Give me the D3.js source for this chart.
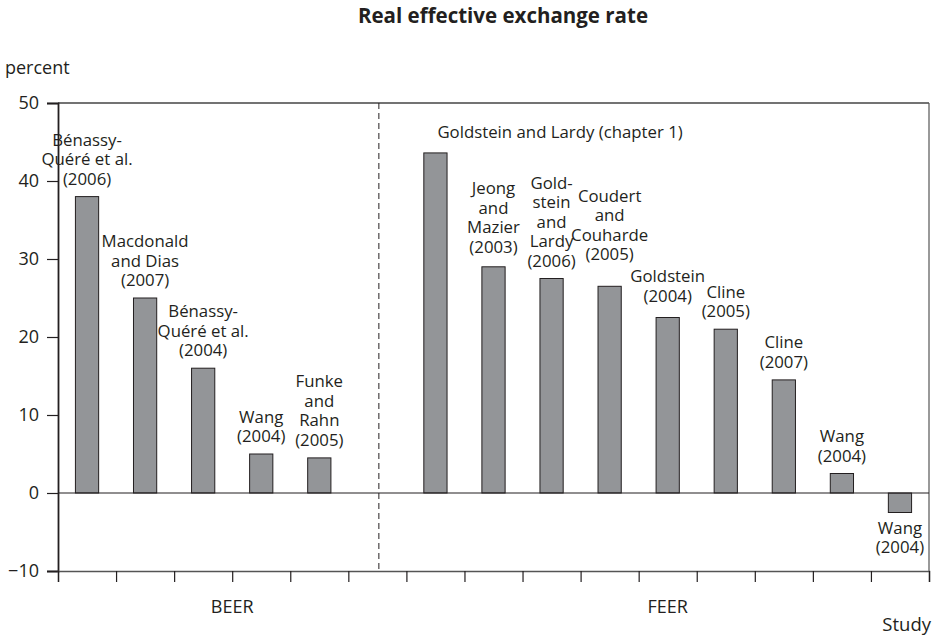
<html>
<head>
<meta charset="UTF-8">
<title>Real effective exchange rate</title>
<script src="https://d3js.org/d3.v7.min.js"></script>
<style>html,body{margin:0;padding:0;background:#fff;}svg{font-family:"Open Sans",sans-serif;}</style>
</head>
<body>
<div id="container"></div>
<script>
// studies, one per bar, label lines split with "|"
const studies = [
  "Bénassy-|Quéré et al.|(2006)",
  "Macdonald|and Dias|(2007)",
  "Bénassy-|Quéré et al.|(2004)",
  "Wang|(2004)",
  "Funke|and|Rahn|(2005)",
  "Goldstein and Lardy (chapter 1)",
  "Jeong|and|Mazier|(2003)",
  "Gold-|stein|and|Lardy|(2006)",
  "Coudert|and|Couharde|(2005)",
  "Goldstein|(2004)",
  "Cline|(2005)",
  "Cline|(2007)",
  "Wang|(2004)",
  "Wang|(2004)"
]
const methods = ["BEER","BEER","BEER","BEER","BEER","FEER","FEER","FEER","FEER","FEER","FEER","FEER","FEER","FEER"]
const values = [38, 25, 16, 5, 4.5, 43.6, 29, 27.5, 26.5, 22.5, 21, 14.5, 2.5, -2.5]
const yTicks = [-10, 0, 10, 20, 30, 40, 50]
const groupNames = ["BEER", "FEER"]

const width = 939, height = 638
const plot = { left: 58, right: 929, top: 103, bottom: 571 }
const nSlots = 15
const ink = "#231f20"

// BEER bars in slots 0-4, slot 5 empty (divider), FEER in 6-14
const slotOf = i => methods[i] === "BEER" ? i : i + 1

const svg = d3.select("#container").append("svg")
  .attr("width", width).attr("height", height)

const x = d3.scaleBand().domain(d3.range(nSlots)).range([plot.left, plot.right])
  .paddingInner(0.6).paddingOuter(0.3)
const xEdge = d3.scaleLinear().domain([0, nSlots]).range([plot.left, plot.right])
const y = d3.scaleLinear().domain([-10, 50]).range([plot.bottom, plot.top])

// title
svg.append("text").attr("x", 503).attr("y", 23).attr("text-anchor", "middle")
  .style("font-weight", "bold").style("font-size", "20.5px").attr("fill", ink)
  .text("Real effective exchange rate")
svg.append("text").attr("x", 5).attr("y", 74).style("font-size", "18px").attr("fill", ink)
  .text("percent")

// frame: top and right
svg.append("line").attr("x1", plot.left).attr("x2", plot.right).attr("y1", y(50)).attr("y2", y(50))
  .attr("stroke", "#444").attr("stroke-width", 1.3)
svg.append("line").attr("x1", plot.right).attr("x2", plot.right).attr("y1", y(50)).attr("y2", plot.bottom)
  .attr("stroke", "#555").attr("stroke-width", 1.2)

// y axis
const yAxis = svg.append("g").attr("transform", `translate(${plot.left},0)`)
  .call(d3.axisLeft(y).tickValues(yTicks).tickSize(11).tickPadding(8))
yAxis.select(".domain").attr("stroke", ink).attr("stroke-width", 1.8)
yAxis.selectAll(".tick line").attr("stroke", ink).attr("stroke-width", 1.2)
yAxis.selectAll("text").style("font-size", "18px").attr("fill", ink).style("font-family", "Open Sans")

// x axis (slot boundaries)
const xAxis = svg.append("g").attr("transform", `translate(0,${plot.bottom})`)
  .call(d3.axisBottom(xEdge).tickValues(d3.range(nSlots + 1)).tickFormat("").tickSize(11))
xAxis.select(".domain").attr("stroke", "#555").attr("stroke-width", 1.5)
xAxis.selectAll(".tick line").attr("stroke", ink).attr("stroke-width", 1.2)

// divider between BEER and FEER
svg.append("line")
  .attr("x1", xEdge(5.5) + 1.5).attr("x2", xEdge(5.5) + 1.5)
  .attr("y1", y(50)).attr("y2", plot.bottom)
  .attr("stroke", ink).attr("stroke-width", 1).attr("stroke-dasharray", "6,4")

// bars
svg.selectAll("rect.bar").data(values).join("rect").attr("class", "bar")
  .attr("x", (d, i) => x(slotOf(i)))
  .attr("width", x.bandwidth())
  .attr("y", d => y(Math.max(0, d)))
  .attr("height", d => Math.abs(y(d) - y(0)))
  .attr("fill", "#939598").attr("stroke", ink).attr("stroke-width", 1)

// zero line
svg.append("line").attr("x1", plot.left).attr("x2", plot.right).attr("y1", y(0)).attr("y2", y(0))
  .attr("stroke", ink).attr("stroke-width", 1.2)

// bar labels
const lineH = 19.5
const labelLift = {6: 2, 8: 14, 9: 4}
studies.forEach((s, i) => {
  const lines = s.split("|")
  const cx = x(slotOf(i)) + x.bandwidth() / 2
  const v = values[i]
  const t = svg.append("text").style("font-size", "16.8px").attr("fill", ink)
  if (lines.length === 1) {
    t.attr("x", cx + 2).attr("y", y(v) - 15).attr("text-anchor", "start").text(s)
    return
  }
  let y0
  if (v < 0) y0 = y(v) + 21
  else y0 = y(v) - 12 - (labelLift[i] || 0) - (lines.length - 1) * lineH
  t.attr("text-anchor", "middle")
  t.selectAll("tspan").data(lines).join("tspan")
    .attr("x", cx).attr("y", (d, k) => y0 + k * lineH).text(d => d)
})

// group labels
groupNames.forEach(g => {
  const idx = d3.range(values.length).filter(i => methods[i] === g)
  let s0 = d3.min(idx, slotOf), s1 = d3.max(idx, slotOf) + 1
  if (g === "BEER") s1 += 1
  svg.append("text").attr("x", (xEdge(s0) + xEdge(s1)) / 2).attr("y", 613)
    .attr("text-anchor", "middle").style("font-size", "18px").attr("fill", ink).text(g)
})
svg.append("text").attr("x", plot.right + 2).attr("y", 631).attr("text-anchor", "end")
  .style("font-size", "18.5px").attr("fill", ink).text("Study")
</script>
</body>
</html>
